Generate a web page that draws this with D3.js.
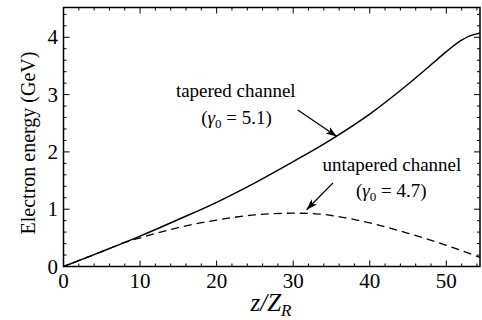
<!DOCTYPE html>
<html>
<head>
<meta charset="utf-8">
<script src="https://cdn.jsdelivr.net/npm/d3@7"></script>
<style>
  html, body { margin: 0; padding: 0; background: #fff; }
</style>
</head>
<body>
<svg id="chart" width="482" height="320"></svg>
<script>
// data (z / Z_R, electron energy in GeV)
var taperedZ = [0, 5, 10, 15, 20, 25, 30, 35, 40, 45, 48, 50, 52, 53, 54, 54.4]
var taperedE = [0, 0.26, 0.53, 0.82, 1.12, 1.46, 1.83, 2.22, 2.66, 3.18, 3.52, 3.75, 3.95, 4.02, 4.06, 4.07]
var untaperedZ = [0, 5, 8, 10, 15, 20, 25, 30, 33, 35, 40, 45, 50, 54.4]
var untaperedE = [0, 0.26, 0.42, 0.5, 0.68, 0.81, 0.9, 0.93, 0.92, 0.89, 0.76, 0.58, 0.37, 0.16]
var xTicks = [0, 10, 20, 30, 40, 50]
var yTicks = [0, 1, 2, 3, 4]

var serif = "'Liberation Serif', 'Times New Roman', Times, 'DejaVu Serif', serif"

var svg = d3.select('#chart')
	, plotLeft = 63.5
	, plotRight = 480
	, plotTop = 7.5
	, plotBottom = 266.5

svg.attr('font-family', serif)

var x = d3.scaleLinear().domain([0, 54.4]).range([plotLeft, plotRight])
var y = d3.scaleLinear().domain([0, 4.52]).range([plotBottom, plotTop])

var line = d3.line()
	.x(function(d) { return x(d[0]) })
	.y(function(d) { return y(d[1]) })
	.curve(d3.curveMonotoneX)

// arrow marker
svg.append('defs').append('marker')
	.attr('id', 'head')
	.attr('viewBox', '0 0 10 10')
	.attr('refX', 10).attr('refY', 5)
	.attr('markerWidth', 11).attr('markerHeight', 11)
	.attr('markerUnits', 'userSpaceOnUse')
	.attr('orient', 'auto')
  .append('path')
	.attr('d', 'M0,1.5 L10,5 L0,8.5 L2.5,5 Z')
	.style('fill', '#000')

// curves
svg.append('path')
	.datum(d3.zip(taperedZ, taperedE))
	.attr('d', line)
	.style('fill', 'none').style('stroke', '#000').style('stroke-width', 1.5)

svg.append('path')
	.datum(d3.zip(untaperedZ, untaperedE))
	.attr('d', line)
	.style('fill', 'none').style('stroke', '#000').style('stroke-width', 1.3)
	.style('stroke-dasharray', '8,5')
	.style('stroke-dashoffset', -62)

// frame
svg.append('rect')
	.attr('x', plotLeft).attr('y', plotTop)
	.attr('width', plotRight - plotLeft).attr('height', plotBottom - plotTop)
	.style('fill', 'none').style('stroke', '#000').style('stroke-width', 1.5)

// inward ticks on all four sides
var g = svg.append('g').style('stroke', '#000').style('stroke-width', 1)
d3.range(0, 55, 2).forEach(function(v) {
	var len = v % 10 === 0 ? 6 : 3
	g.append('line').attr('x1', x(v)).attr('x2', x(v)).attr('y1', plotBottom).attr('y2', plotBottom - len)
	g.append('line').attr('x1', x(v)).attr('x2', x(v)).attr('y1', plotTop).attr('y2', plotTop + len)
})
d3.range(0, 4.51, 0.2).forEach(function(v) {
	var len = Math.abs(v - Math.round(v)) < 1e-6 ? 6 : 3
	g.append('line').attr('y1', y(v)).attr('y2', y(v)).attr('x1', plotLeft).attr('x2', plotLeft + len)
	g.append('line').attr('y1', y(v)).attr('y2', y(v)).attr('x1', plotRight).attr('x2', plotRight - len)
})

// tick labels
svg.selectAll('.xl').data(xTicks).enter().append('text')
	.attr('x', function(d) { return x(d) })
	.attr('y', 288)
	.attr('text-anchor', 'middle')
	.style('font-family', serif)
	.style('font-size', '21px')
	.text(function(d) { return d })

svg.selectAll('.yl').data(yTicks).enter().append('text')
	.attr('x', 58)
	.attr('y', function(d) { return y(d) + 7 })
	.attr('text-anchor', 'end')
	.style('font-family', serif)
	.style('font-size', '21px')
	.text(function(d) { return d })

// axis titles
svg.append('text')
	.attr('transform', 'translate(35,143) rotate(-90)')
	.attr('text-anchor', 'middle')
	.style('font-family', serif)
	.style('font-size', '20px')
	.text('Electron energy (GeV)')

var xt = svg.append('text')
	.attr('x', 271).attr('y', 311)
	.attr('text-anchor', 'middle')
	.style('font-family', serif)
	.style('font-size', '25px').style('font-style', 'italic')
xt.append('tspan').text('z/Z')
xt.append('tspan').attr('dy', 5).style('font-size', '17px').text('R')

// annotations
function gammaLabel(cx, cy, val) {
	var t = svg.append('text')
		.attr('x', x(cx)).attr('y', y(cy))
		.attr('text-anchor', 'middle')
		.style('font-family', serif)
		.style('font-size', '19px')
	t.append('tspan').text('(')
	t.append('tspan').style('font-style', 'italic').text('γ')
	t.append('tspan').attr('dy', 4).style('font-size', '13px').text('0')
	t.append('tspan').attr('dy', -4).text(' = ' + val + ')')
}

svg.append('text')
	.attr('x', x(22.5)).attr('y', y(2.95))
	.attr('text-anchor', 'middle')
	.style('font-family', serif).style('font-size', '19px')
	.text('tapered channel')
gammaLabel(22.6, 2.48, '5.1')

svg.append('text')
	.attr('x', x(42.9)).attr('y', y(1.66))
	.attr('text-anchor', 'middle')
	.style('font-family', serif).style('font-size', '19px')
	.text('untapered channel')
gammaLabel(42.8, 1.22, '4.7')

svg.append('line')
	.attr('x1', x(30.6)).attr('y1', y(2.73))
	.attr('x2', x(35.7)).attr('y2', y(2.27))
	.style('stroke', '#000').style('stroke-width', 1.3)
	.attr('marker-end', 'url(#head)')

svg.append('line')
	.attr('x1', x(35.2)).attr('y1', y(1.46))
	.attr('x2', x(31.75)).attr('y2', y(0.99))
	.style('stroke', '#000').style('stroke-width', 1.3)
	.attr('marker-end', 'url(#head)')
</script>
</body>
</html>
